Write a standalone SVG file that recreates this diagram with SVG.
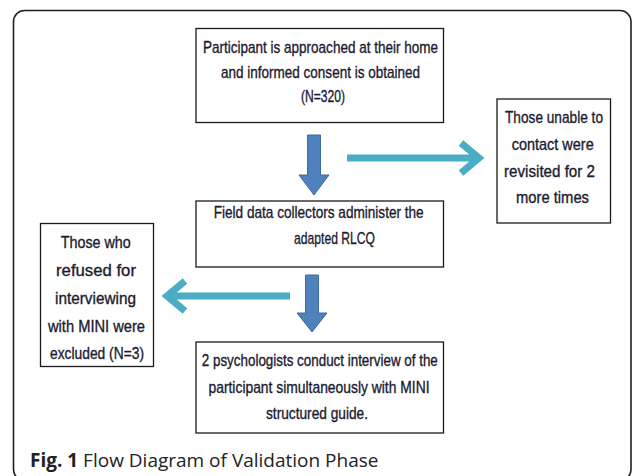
<svg xmlns="http://www.w3.org/2000/svg" width="633" height="476" viewBox="0 0 633 476">
<style>
.frame{fill:#fff;stroke:#1e1e1e;stroke-width:1.6}
.box{fill:#fff;stroke:#1a1a1a;stroke-width:1.3}
.t{font-family:"Liberation Sans Narrow","Liberation Sans",Arial,sans-serif;font-size:17px;fill:#1c1a30;stroke:#1c1a30;stroke-width:0.35;text-anchor:middle}
.blk{fill:#4f81bd;stroke:#3f6a9c;stroke-width:1}
.teal{fill:none;stroke:#4bacc6;stroke-width:7;stroke-linejoin:miter}
.cap{font-family:"Open Sans","Noto Sans",sans-serif;font-size:19px;fill:#222}
</style>
<rect width="633" height="476" fill="#fff"/>
<rect class="frame" x="13.5" y="10.5" width="617.5" height="470" rx="11"/>
<g id="connectors">
<path class="blk" d="M307.5,135 H320.5 V175 H329 L314,195 L299,175 H307.5 Z"/>
<path class="blk" d="M305.5,275 H318.5 V313 H327 L312,332 L297,313 H305.5 Z"/>
<path class="teal" d="M347,158 H477 M461,143 L479,158 L461,173"/>
<path class="teal" d="M290,296 H169 M185,281 L167,296 L185,311"/>
</g>
<g id="n1">
<rect class="box" x="196" y="28.5" width="247.5" height="94"/>
<text class="t" x="320.5" y="53" textLength="235" lengthAdjust="spacingAndGlyphs">Participant is approached at their home</text>
<text class="t" x="320.5" y="78" textLength="199" lengthAdjust="spacingAndGlyphs">and informed consent is obtained</text>
<text class="t" x="323" y="102" textLength="44" lengthAdjust="spacingAndGlyphs">(N=320)</text>
</g>
<g id="n2">
<rect class="box" x="497" y="99" width="113.5" height="124"/>
<text class="t" x="554" y="123" textLength="98" lengthAdjust="spacingAndGlyphs">Those unable to</text>
<text class="t" x="552.7" y="150" textLength="82" lengthAdjust="spacingAndGlyphs">contact were</text>
<text class="t" x="549.5" y="177" textLength="91" lengthAdjust="spacingAndGlyphs">revisited for 2</text>
<text class="t" x="552.5" y="203" textLength="73" lengthAdjust="spacingAndGlyphs">more times</text>
</g>
<g id="n3">
<rect class="box" x="196" y="201" width="247.5" height="66"/>
<text class="t" x="318.7" y="218" textLength="210" lengthAdjust="spacingAndGlyphs">Field data collectors administer the</text>
<text class="t" x="334.5" y="244" textLength="81" lengthAdjust="spacingAndGlyphs">adapted RLCQ</text>
</g>
<g id="n4">
<rect class="box" x="40.5" y="223.5" width="113" height="143"/>
<text class="t" x="95.8" y="248" textLength="70" lengthAdjust="spacingAndGlyphs">Those who</text>
<text class="t" x="96" y="276" textLength="80" lengthAdjust="spacingAndGlyphs">refused for</text>
<text class="t" x="95.5" y="304" textLength="81" lengthAdjust="spacingAndGlyphs">interviewing</text>
<text class="t" x="96.5" y="332" textLength="97" lengthAdjust="spacingAndGlyphs">with MINI were</text>
<text class="t" x="97" y="359" textLength="94" lengthAdjust="spacingAndGlyphs">excluded (N=3)</text>
</g>
<g id="n5">
<rect class="box" x="196" y="342" width="247.5" height="91"/>
<text class="t" x="319.8" y="366" textLength="236" lengthAdjust="spacingAndGlyphs">2 psychologists conduct interview of the</text>
<text class="t" x="319" y="393" textLength="221" lengthAdjust="spacingAndGlyphs">participant simultaneously with MINI</text>
<text class="t" x="317" y="419" textLength="102" lengthAdjust="spacingAndGlyphs">structured guide.</text>
</g>
<text class="cap" x="30" y="467"><tspan font-weight="bold">Fig. 1</tspan> Flow Diagram of Validation Phase</text>
</svg>
